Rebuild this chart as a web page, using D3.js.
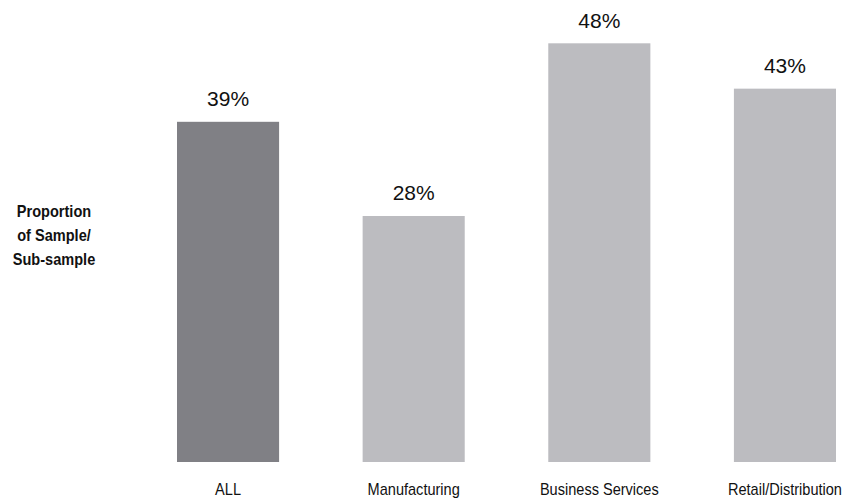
<!DOCTYPE html>
<html>
<head>
<meta charset="utf-8">
<script src="https://cdn.jsdelivr.net/npm/d3@7"></script>
<style>
	body { margin: 0; background: #fff; }
	text { font-family: "Liberation Sans", Arial, sans-serif; fill: #111; }
</style>
</head>
<body>
<div id="chart"></div>
<script>
// Data
const categories = ["ALL", "Manufacturing", "Business Services", "Retail/Distribution"];
const values = [39, 28.2, 48, 42.8]; // labels rounded
const yLabelLines = ["Proportion", "of Sample/", "Sub-sample"];

const width = 845, height = 501;
const squeeze = 0.91; // the source font is a little narrower than Liberation Sans

let svg = d3.select("#chart").append("svg")
	.attr("width", width).attr("height", height);

// Scales
let scaleX = d3.scaleBand(categories, [177, 836]).paddingInner(0.45).paddingOuter(0);
let scaleY = d3.scaleLinear([0, 48], [462, 43.3]);

// Bars
svg.selectAll("rect.bar")
	.data(categories)
	.join("rect")
	.classed("bar", true)
	.attr("x", (d) => scaleX(d))
	.attr("width", scaleX.bandwidth())
	.attr("y", (d, i) => scaleY(values[i]))
	.attr("height", (d, i) => scaleY(0) - scaleY(values[i]))
	.attr("fill", (d, i) => i === 0 ? "#808085" : "#bcbcc0");

// Value labels
svg.selectAll("text.value")
	.data(categories)
	.join("text")
	.classed("value", true)
	.attr("x", (d) => scaleX(d) + scaleX.bandwidth() / 2)
	.attr("y", (d, i) => scaleY(values[i]) - 15.6)
	.attr("text-anchor", "middle")
	.style("font-size", "21px")
	.text((d, i) => Math.round(values[i]) + "%");

// Category axis (no line, no ticks)
let axisX = svg.append("g")
	.attr("transform", `translate(0, ${scaleY(0)})`)
	.call(d3.axisBottom(scaleX).tickSize(0).tickPadding(0));
axisX.select(".domain").remove();
axisX.selectAll("text")
	.attr("dy", null)
	.attr("y", 33)
	.attr("transform", `scale(${squeeze}, 1)`)
	.attr("fill", "#111")
	.style("font-size", "16px")
	.style("font-family", "'Liberation Sans', Arial, sans-serif");

// Y label
svg.append("text")
	.attr("transform", `translate(54, 0) scale(${squeeze}, 1)`)
	.attr("text-anchor", "middle")
	.style("font-size", "16px")
	.style("font-weight", "bold")
	.selectAll("tspan")
	.data(yLabelLines)
	.join("tspan")
	.attr("x", 0)
	.attr("y", (d, i) => 216.7 + i * 24.2)
	.text((d) => d);
</script>
</body>
</html>
